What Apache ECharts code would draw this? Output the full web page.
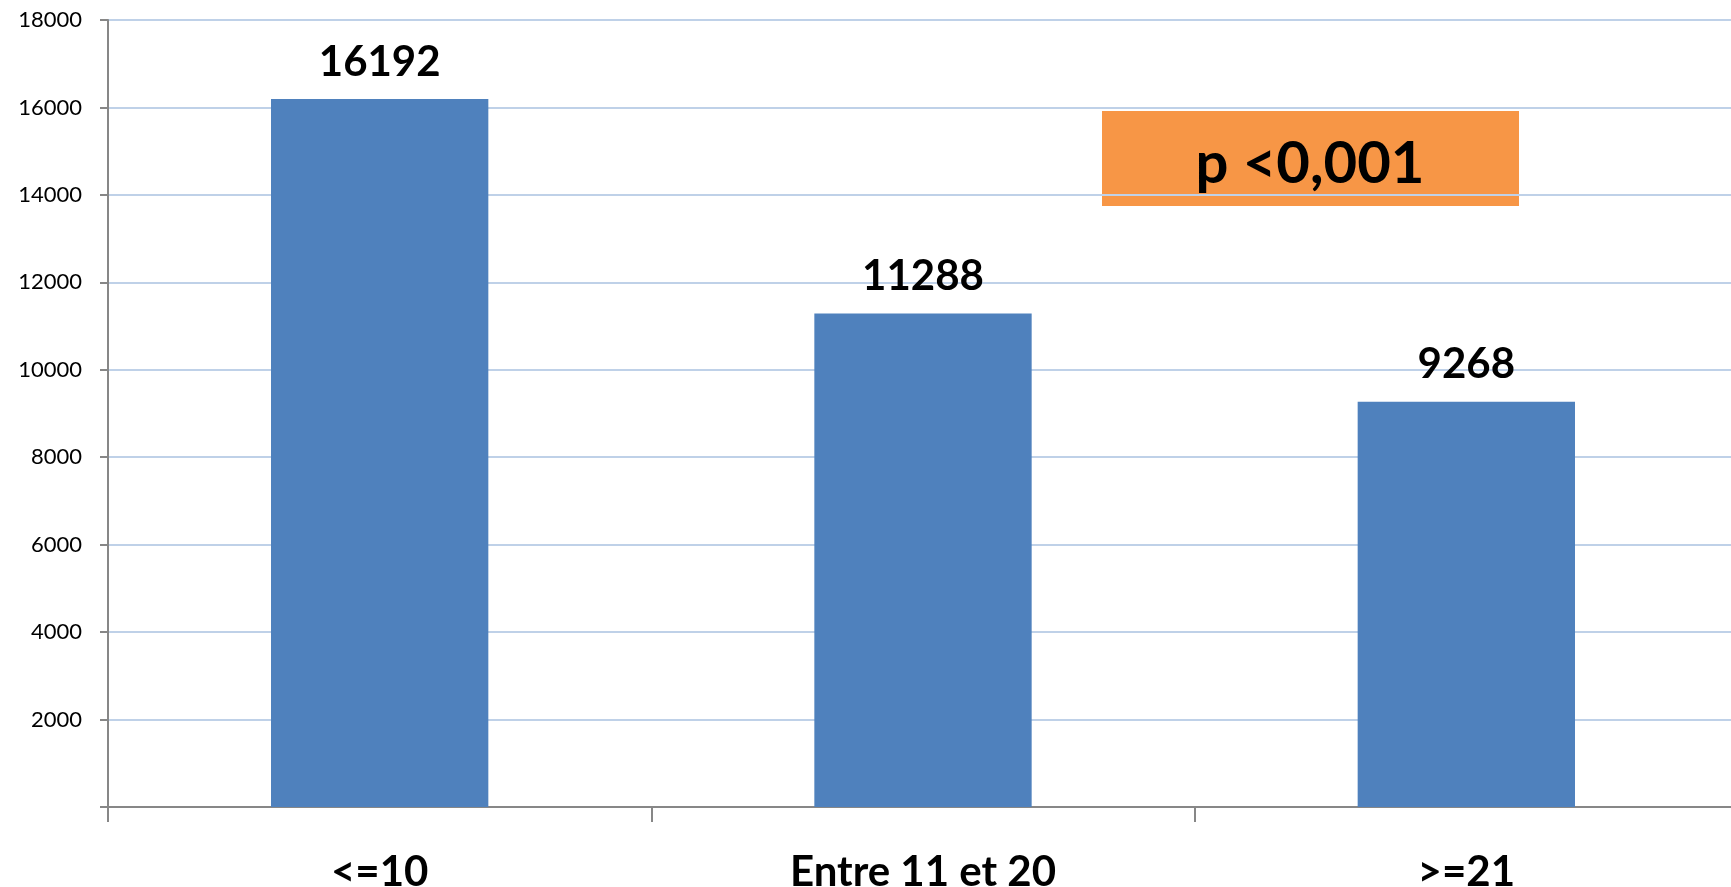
<!DOCTYPE html>
<html>
<head>
<meta charset="utf-8">
<script src="https://cdn.jsdelivr.net/npm/echarts@6/dist/echarts.min.js"></script>
<style>
  html, body { margin: 0; padding: 0; background: #fff; }
  #chart { width: 1731px; height: 887px; }
</style>
</head>
<body>
<div id="chart"></div>
<script>
// Number of cases by group
const categories = ['<=10', 'Entre 11 et 20', '>=21'];
const values = [16192, 11288, 9268];
const yTicks = [0, 2000, 4000, 6000, 8000, 10000, 12000, 14000, 16000, 18000];
const pValueText = 'p <0,001';

const chart = echarts.init(document.getElementById('chart'));

chart.setOption({
  animation: false,
  backgroundColor: '#ffffff',
  grid: {
    left: 108, right: -7, top: 20, bottom: 80,
    containLabel: false,
    outerBoundsMode: 'none'
  },
  xAxis: {
    type: 'category',
    data: categories,
    boundaryGap: true,
    axisLine: { lineStyle: { color: '#878787', width: 2 } },
    axisTick: { show: true, length: 15, lineStyle: { color: '#878787', width: 2 } },
    axisLabel: {
      margin: 44,
      color: '#000',
      fontFamily: 'Lato',
      fontWeight: 'bold',
      fontSize: 42
    },
    splitLine: { show: false }
  },
  yAxis: {
    type: 'value',
    min: yTicks[0],
    max: yTicks[yTicks.length - 1],
    interval: yTicks[1] - yTicks[0],
    axisLine: { show: true, lineStyle: { color: '#878787', width: 2 } },
    axisTick: { show: true, length: 8, lineStyle: { color: '#878787', width: 2 } },
    axisLabel: {
      margin: 26,
      color: '#000',
      fontFamily: 'Lato',
      fontSize: 22,
      formatter: v => (v === 0 ? '' : String(v))
    },
    splitLine: { show: true, lineStyle: { color: '#BFD1E8', width: 2 } }
  },
  series: [{
    type: 'bar',
    data: values,
    barWidth: '40%',
    itemStyle: { color: '#4F81BD' },
    label: {
      show: true,
      position: 'top',
      distance: 16,
      color: '#000',
      fontFamily: 'Lato',
      fontWeight: 'bold',
      fontSize: 42
    }
  }],
  graphic: [{
    type: 'group',
    left: 1102,
    top: 111,
    children: [{
      type: 'rect',
      shape: { x: 0, y: 0, width: 417, height: 95 },
      style: { fill: '#F79646' }
    }, {
      type: 'text',
      x: 208,
      y: 53,
      style: {
        text: pValueText,
        fill: '#000',
        font: 'bold 58px Lato',
        align: 'center',
        verticalAlign: 'middle'
      }
    }]
  }]
});
</script>
</body>
</html>
